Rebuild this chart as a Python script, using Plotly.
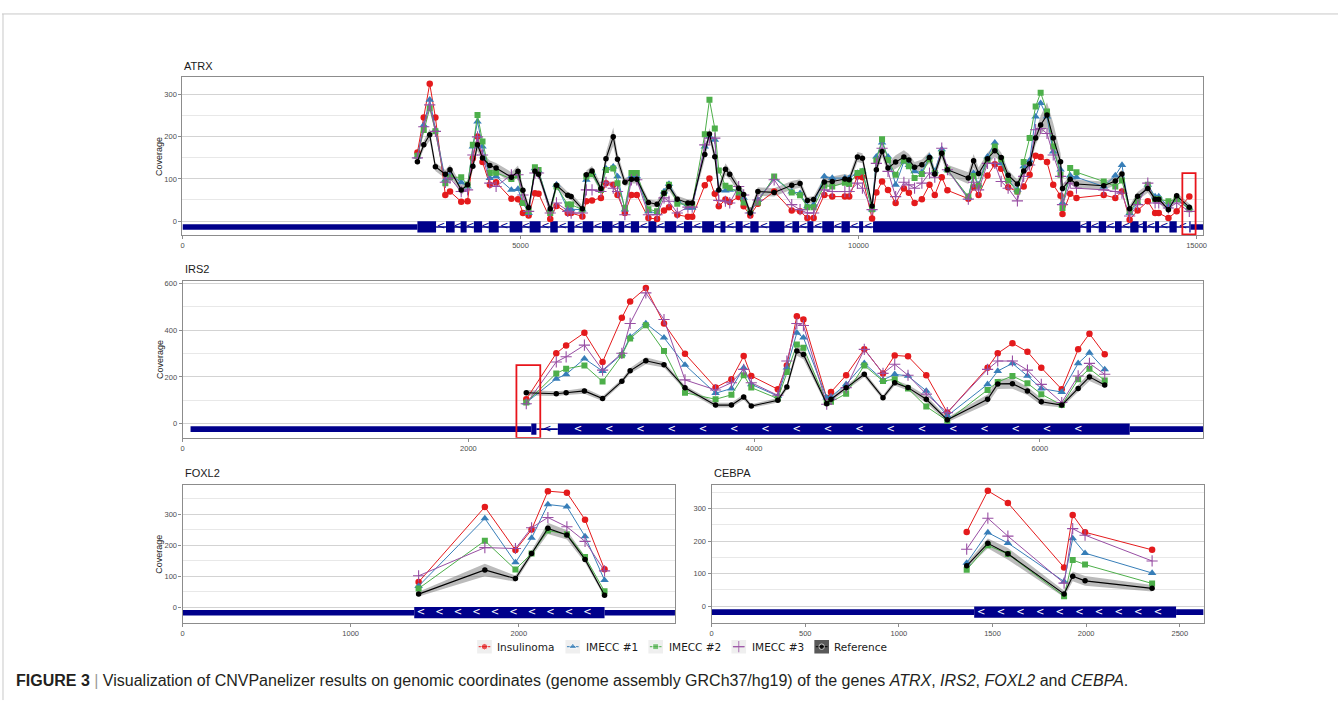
import numpy as np
import plotly.graph_objects as go

FIG_W, FIG_H = 1342, 719
NAVY = "#00008B"
C_INS, C_IM1, C_IM2, C_IM3, C_REF = "#E41A1C", "#377EB8", "#4DAF4A", "#984EA3", "#000000"

# ---------------------------------------------------------------- ATRX
atrx_pos = [3475, 3569, 3657, 3741, 3888, 3957, 4123, 4217, 4295, 4364, 4438, 4546, 4639,
            4865, 4963, 5036, 5120, 5213, 5267, 5440, 5532, 5699, 5749, 5915, 5974, 6058,
            6190, 6264, 6372, 6435, 6544, 6641, 6720, 6892, 7020, 7123, 7196, 7319, 7476,
            7540, 7726, 7795, 7874, 7933, 8031, 8095, 8227, 8301, 8399, 8511, 8752, 9012,
            9135, 9243, 9336, 9494, 9611, 9798, 9862, 9984, 10058, 10200, 10264, 10348,
            10436, 10549, 10671, 10745, 10829, 10937, 11050, 11128, 11231, 11315, 11624,
            11702, 11776, 11908, 12016, 12110, 12213, 12350, 12443, 12531, 12620, 12694,
            12788, 12880, 12988, 13017, 13131, 13224, 13627, 13798, 13897, 14010, 14128,
            14279, 14387, 14441, 14584, 14706, 14893]
atrx_ref = [141, 181, 205, 129, 111, 122, 74, 86, 130, 181, 150, 132, 126, 104, 118, 73, 32,
            118, 111, 29, 85, 61, 58, 29, 110, 119, 77, 148, 200, 147, 92, 99, 99, 44, 40, 66,
            82, 52, 43, 43, 158, 207, 153, 74, 123, 111, 78, 63, 19, 70, 68, 85, 89, 49, 51,
            93, 94, 100, 98, 152, 149, 36, 122, 165, 126, 140, 152, 145, 128, 134, 151, 112,
            161, 122, 102, 143, 113, 148, 167, 151, 109, 88, 119, 136, 197, 228, 252, 197,
            141, 77, 99, 88, 84, 95, 112, 29, 59, 77, 52, 52, 27, 60, 33]
atrx_ins = [163, 246, 326, 246, 62, 70, 46, 47, 149, 201, 140, 86, 92, 53, 52, 19, 13, 66, 65,
            5, 36, 19, 19, 11, 47, 49, 55, 90, 86, 62, 19, 62, 62, 7, 5, 25, 33, 15, 10, 10,
            85, 101, 65, 35, 51, 45, 57, 35, 13, 41, 70, 25, 23, 7, 7, 62, 58, 58, 58, 106,
            104, 6, 68, 94, 74, 43, 77, 67, 43, 52, 86, 62, 104, 73, 53, 80, 62, 108, 135, 124,
            80, 70, 82, 110, 155, 152, 140, 86, 60, 17, 65, 55, 62, 55, 70, 3, 25, 47, 19, 19,
            7, 23, 58]
atrx_im1 = [153, 228, 288, 216, 98, 110, 92, 82, 177, 236, 177, 102, 106, 74, 76, 43, 19, 125,
            119, 27, 86, 28, 28, 27, 98, 114, 74, 125, 129, 106, 27, 106, 106, 23, 19, 70, 88,
            49, 31, 31, 177, 201, 193, 74, 72, 74, 74, 55, 23, 50, 102, 70, 66, 35, 39, 106,
            102, 102, 102, 114, 118, 27, 153, 186, 153, 86, 141, 133, 118, 116, 153, 118, 170,
            122, 55, 114, 86, 153, 186, 137, 97, 74, 130, 144, 248, 280, 248, 165, 122, 43,
            108, 104, 82, 108, 133, 19, 43, 86, 58, 58, 35, 50, 31]
atrx_im2 = [155, 216, 268, 213, 90, 104, 104, 86, 181, 252, 189, 114, 115, 100, 108, 43, 23, 128,
            121, 19, 82, 39, 39, 27, 106, 111, 74, 121, 125, 90, 31, 114, 114, 28, 23, 66, 86,
            41, 39, 39, 206, 288, 220, 120, 84, 79, 68, 44, 25, 44, 106, 68, 61, 33, 33, 84, 82,
            91, 88, 114, 118, 28, 144, 194, 145, 110, 144, 130, 102, 112, 147, 114, 161, 122,
            58, 107, 84, 145, 177, 147, 96, 70, 140, 197, 272, 305, 260, 177, 110, 31, 126,
            116, 94, 82, 96, 23, 47, 86, 52, 52, 47, 52, 28]
atrx_im3 = [150, 224, 276, 213, 92, 102, 70, 74, 157, 200, 157, 90, 82, 110, 110, 62, 23, 114,
            114, 19, 43, 23, 19, 19, 74, 74, 70, 92, 78, 70, 15, 98, 98, 15, 15, 55, 47, 19, 33,
            33, 181, 197, 197, 49, 47, 43, 82, 62, 19, 50, 98, 39, 27, 19, 19, 74, 70, 70, 70,
            90, 78, 27, 137, 173, 118, 58, 92, 86, 78, 90, 114, 104, 173, 122, 52, 92, 74, 137,
            137, 94, 78, 48, 106, 133, 217, 220, 208, 157, 106, 39, 90, 78, 74, 70, 66, 12, 39,
            90, 43, 43, 31, 43, 23]
atrx_band = [8, 10, 14, 10, 10, 12, 12, 10, 10, 14, 12, 12, 12, 12, 14, 10, 8, 10, 10, 8, 10, 8,
             8, 8, 10, 12, 10, 15, 22, 15, 10, 10, 10, 8, 8, 10, 10, 8, 8, 8, 12, 14, 12, 10, 14,
             12, 10, 10, 8, 10, 10, 10, 10, 8, 8, 12, 12, 12, 10, 12, 12, 8, 10, 12, 12, 16, 16,
             14, 12, 12, 14, 12, 12, 12, 14, 16, 14, 14, 14, 12, 12, 10, 10, 12, 16, 22, 30, 35,
             20, 10, 10, 10, 10, 10, 10, 8, 10, 10, 8, 8, 8, 8, 8]
atrx_exon_start = [3475, 3898, 4114, 4310, 4531, 4840, 5135, 5440, 5699, 5920, 6205, 6450, 6632,
                   6892, 7133, 7417, 7687, 7958, 8183, 8399, 8679, 9022, 9243, 9464, 9748,
                   10009, 10215, 13371, 13553, 13794, 14019, 14206, 14387, 14599, 14893]
atrx_exon_end = [3751, 4026, 4203, 4432, 4678, 5027, 5297, 5551, 5797, 6078, 6361, 6534, 6754,
                 7010, 7304, 7539, 7863, 8031, 8286, 8522, 8904, 9121, 9332, 9636, 9872, 10068,
                 13282, 13440, 13662, 13892, 14142, 14265, 14446, 14707, 14912]
atrx_utr = [(0, 3475), (14912, 15100)]

# ---------------------------------------------------------------- IRS2
irs2_pos = [2405, 2615, 2684, 2812, 2939, 3074, 3132, 3242, 3369, 3516, 3730, 3841, 3927, 3980,
            4166, 4229, 4299, 4345, 4508, 4538, 4644, 4771, 4902, 4984, 5077, 5205, 5352, 5634,
            5705, 5808, 5913, 6010, 6153, 6268, 6347, 6454]
irs2_ref = [132, 128, 132, 140, 107, 181, 226, 269, 252, 153, 79, 79, 114, 75, 100, 157, 311,
            296, 85, 104, 153, 211, 111, 175, 154, 104, 16, 104, 170, 171, 140, 93, 79, 150,
            200, 165]
irs2_ins = [104, 301, 335, 389, 264, 453, 523, 581, 429, 299, 154, 190, 289, 204, 147, 249, 460,
            446, 110, 135, 207, 318, 215, 292, 288, 207, 47, 239, 301, 344, 308, 239, 147, 318,
            385, 297]
irs2_im1 = [90, 192, 211, 278, 225, 297, 372, 429, 368, 251, 130, 150, 239, 168, 118, 240, 389,
            368, 111, 115, 168, 258, 187, 211, 204, 140, 33, 168, 225, 258, 204, 150, 135, 258,
            303, 232]
irs2_im2 = [90, 215, 235, 249, 180, 293, 365, 421, 311, 132, 104, 123, 207, 154, 107, 221, 339,
            325, 90, 93, 128, 249, 182, 190, 150, 73, 12, 144, 178, 204, 173, 126, 79, 190, 235,
            185]
irs2_im3 = [85, 264, 286, 336, 229, 301, 429, 560, 446, 187, 144, 175, 232, 175, 121, 268, 429,
            420, 83, 104, 154, 318, 215, 254, 207, 126, 47, 232, 268, 268, 229, 168, 90, 204,
            258, 211]
irs2_band = [12, 10, 10, 12, 10, 10, 12, 15, 12, 10, 10, 10, 12, 8, 10, 12, 20, 20, 10, 10, 10,
             12, 10, 12, 12, 15, 10, 20, 22, 22, 18, 15, 10, 15, 18, 12]
irs2_exon_start = [2440, 2626]
irs2_exon_end = [2476, 6629]
irs2_utr = [(55, 2440), (6629, 7144)]

# ---------------------------------------------------------------- FOXL2
foxl2_pos = [1404, 1798, 1980, 2076, 2173, 2286, 2394, 2510]
foxl2_ref = [42, 120, 92, 173, 254, 233, 154, 38]
foxl2_ins = [81, 323, 184, 250, 374, 369, 282, 122]
foxl2_im1 = [68, 286, 144, 223, 331, 324, 228, 87]
foxl2_im2 = [60, 214, 121, 173, 247, 235, 162, 51]
foxl2_im3 = [101, 192, 189, 256, 289, 259, 212, 117]
foxl2_band = [8, 20, 10, 10, 18, 15, 10, 6]
foxl2_exon_start = [1378]
foxl2_exon_end = [2510]
foxl2_utr = [(0, 1378), (2510, 2929)]

# ---------------------------------------------------------------- CEBPA
cebpa_pos = [1362, 1475, 1582, 1882, 1928, 1994, 2352]
cebpa_ref = [124, 193, 161, 38, 92, 78, 55]
cebpa_ins = [228, 354, 317, 119, 280, 227, 173]
cebpa_im1 = [133, 226, 194, 76, 208, 163, 102]
cebpa_im2 = [112, 187, 160, 31, 142, 128, 70]
cebpa_im3 = [175, 270, 215, 71, 238, 218, 139]
cebpa_band = [8, 15, 18, 10, 15, 15, 10]
cebpa_exon_start = [1402]
cebpa_exon_end = [2480]
cebpa_utr = [(0, 1402), (2480, 2627)]

series_names = ["Insulinoma", "IMECC #1", "IMECC #2", "IMECC #3", "Reference"]

# panel layout in pixels: left, right, top, bottom
panels = [
    dict(title="ATRX", ax="", box=(181.3, 1206.7, 75.7, 234.0), xr=[0, 15100], yr=[-34, 341],
         xt=[0, 5000, 10000, 15000], yt=[0, 100, 200, 300], ym=[50, 150, 250],
         pos=atrx_pos, ref=atrx_ref, band=atrx_band,
         vals=[atrx_ins, atrx_im1, atrx_im2, atrx_im3],
         es=atrx_exon_start, ee=atrx_exon_end, utr=atrx_utr, track=-14,
         chev=0, ylabel=True, hl=(14790, 14986, -32, 114)),
    dict(title="IRS2", ax="2", box=(181.5, 1206.7, 280.0, 437.0), xr=[0, 7144], yr=[-61, 610],
         xt=[0, 2000, 4000, 6000], yt=[0, 200, 400, 600], ym=[100, 300, 500],
         pos=irs2_pos, ref=irs2_ref, band=irs2_band,
         vals=[irs2_ins, irs2_im1, irs2_im2, irs2_im3],
         es=irs2_exon_start, ee=irs2_exon_end, utr=irs2_utr, track=-24,
         chev=17, ylabel=True, hl=(2336, 2503, -61, 250)),
    dict(title="FOXL2", ax="3", box=(181.4, 676.0, 484.3, 623.0), xr=[0, 2929], yr=[-52, 394],
         xt=[0, 1000, 2000], yt=[0, 100, 200, 300], ym=[50, 150, 250, 350],
         pos=foxl2_pos, ref=foxl2_ref, band=foxl2_band,
         vals=[foxl2_ins, foxl2_im1, foxl2_im2, foxl2_im3],
         es=foxl2_exon_start, ee=foxl2_exon_end, utr=foxl2_utr, track=-18,
         chev=10, ylabel=True, hl=None),
    dict(title="CEBPA", ax="4", box=(712.8, 1207.0, 484.3, 623.0), xr=[0, 2627], yr=[-52, 372],
         xt=[0, 500, 1000, 1500, 2000, 2500], yt=[0, 100, 200, 300], ym=[50, 150, 250, 350],
         pos=cebpa_pos, ref=cebpa_ref, band=cebpa_band,
         vals=[cebpa_ins, cebpa_im1, cebpa_im2, cebpa_im3],
         es=cebpa_exon_start, ee=cebpa_exon_end, utr=cebpa_utr, track=-18,
         chev=10, ylabel=False, hl=None),
]

styles = [
    dict(color=C_INS, symbol="circle", size=6.5),
    dict(color=C_IM1, symbol="triangle-up", size=7.5),
    dict(color=C_IM2, symbol="square", size=6),
    dict(color=C_IM3, symbol="cross-thin", size=8),
]

TICK_FONT = dict(family="Liberation Sans, Arial", size=7.5, color="#4D4D4D")
AXIS_LINE = "#8C8C8C"

fig = go.Figure()
shapes, annotations = [], []
layout_axes = {}

for p in panels:
    s = p["ax"]
    xa, ya = "x" + s, "y" + s
    l, r, t, b = p["box"]
    pos = np.array(p["pos"], dtype=float)
    ref = np.array(p["ref"], dtype=float)
    band = np.array(p["band"], dtype=float)

    # reference confidence ribbon
    fig.add_trace(go.Scatter(
        x=np.concatenate([pos, pos[::-1]]),
        y=np.concatenate([ref + band, (ref - band)[::-1]]),
        fill="toself", fillcolor="rgba(105,105,105,0.45)", line=dict(width=0),
        mode="lines", hoverinfo="skip", showlegend=False, xaxis=xa, yaxis=ya))

    # sample series
    for vals, st in zip(p["vals"], styles):
        mk = dict(symbol=st["symbol"], size=st["size"], color=st["color"])
        if st["symbol"] == "cross-thin":
            mk["line"] = dict(color=st["color"], width=1.1)
        else:
            mk["line"] = dict(width=0)
        fig.add_trace(go.Scatter(x=p["pos"], y=vals, mode="lines+markers",
                                 line=dict(color=st["color"], width=1), marker=mk,
                                 showlegend=False, xaxis=xa, yaxis=ya))

    # reference series
    fig.add_trace(go.Scatter(x=p["pos"], y=p["ref"], mode="lines+markers",
                             line=dict(color=C_REF, width=1.1),
                             marker=dict(symbol="circle", size=5.5, color=C_REF),
                             showlegend=False, xaxis=xa, yaxis=ya))

    # gene model: UTR (half height), intron line, coding exons
    tr = p["track"]
    es, ee = p["es"], p["ee"]
    for u0, u1 in p["utr"]:
        shapes.append(dict(type="rect", xref=xa, yref=ya, x0=u0, x1=u1, ysizemode="pixel",
                           yanchor=tr, y0=-2.8, y1=2.8, fillcolor=NAVY, line=dict(width=0),
                           layer="between"))
    if len(es) > 1:
        shapes.append(dict(type="line", xref=xa, yref=ya, x0=ee[0], x1=es[-1],
                           ysizemode="pixel", yanchor=tr, y0=0, y1=0,
                           line=dict(color=NAVY, width=1.6), layer="between"))
    for e0, e1 in zip(es, ee):
        shapes.append(dict(type="rect", xref=xa, yref=ya, x0=e0, x1=e1, ysizemode="pixel",
                           yanchor=tr, y0=-5.6, y1=5.6, fillcolor=NAVY, line=dict(width=0),
                           layer="between"))
    # strand arrows in introns
    ix = [(ee[i] + es[i + 1]) / 2 for i in range(len(es) - 1)]
    if ix:
        fig.add_trace(go.Scatter(x=ix, y=[tr] * len(ix), mode="text", text=["<"] * len(ix),
                                 textfont=dict(color=NAVY, size=10, family="DejaVu Sans"),
                                 textposition="middle center", hoverinfo="skip",
                                 showlegend=False, xaxis=xa, yaxis=ya))
    # strand chevrons inside the long coding exon
    if p["chev"]:
        k = int(np.argmax(np.array(ee) - np.array(es)))
        span = ee[k] - es[k]
        cx = np.linspace(es[k] + span * 0.035, ee[k] - span * 0.09, p["chev"])
        fig.add_trace(go.Scatter(x=cx, y=[tr] * len(cx), mode="text", text=["<"] * len(cx),
                                 textfont=dict(color="white", size=10, family="DejaVu Sans"),
                                 textposition="middle center", hoverinfo="skip",
                                 showlegend=False, xaxis=xa, yaxis=ya))

    # highlighted region
    if p["hl"]:
        h0, h1, v0, v1 = p["hl"]
        shapes.append(dict(type="rect", xref=xa, yref=ya, x0=h0, x1=h1, y0=v0, y1=v1,
                           line=dict(color="#E8141B", width=1.8), fillcolor="rgba(0,0,0,0)",
                           layer="above"))

    layout_axes["xaxis" + s] = dict(
        domain=[l / FIG_W, r / FIG_W], range=p["xr"], anchor=ya,
        tickmode="array", tickvals=p["xt"], ticktext=[str(v) for v in p["xt"]],
        ticks="outside", ticklen=3, tickwidth=1,
        tickcolor=AXIS_LINE, tickfont=TICK_FONT, showgrid=False, zeroline=False,
        showline=True, mirror=True, linecolor=AXIS_LINE, linewidth=1.2)
    layout_axes["yaxis" + s] = dict(
        domain=[1 - b / FIG_H, 1 - t / FIG_H], range=p["yr"], anchor=xa,
        tickmode="array", tickvals=p["yt"], ticktext=[str(v) for v in p["yt"]],
        ticks="outside", ticklen=3, tickwidth=1,
        tickcolor=AXIS_LINE, tickfont=TICK_FONT, showgrid=True, gridcolor="#D3D3D3",
        gridwidth=1, zeroline=False, showline=True, mirror=True, linecolor=AXIS_LINE,
        linewidth=1.2,
        minor=dict(tickmode="array", tickvals=p["ym"], showgrid=True, gridcolor="#E8E8E8",
                   gridwidth=0.8, ticks=""))

    annotations.append(dict(text=p["title"], x=l / FIG_W, y=1 - (t - 4) / FIG_H,
                            xref="paper", yref="paper", xanchor="left", yanchor="bottom",
                            showarrow=False,
                            font=dict(family="Liberation Sans, Arial", size=11,
                                      color="#1A1A1A")))
    if p["ylabel"]:
        annotations.append(dict(text="Coverage", x=158.3 / FIG_W, y=1 - (t + b) / 2 / FIG_H,
                                xref="paper", yref="paper", xanchor="center",
                                yanchor="middle", textangle=-90, showarrow=False,
                                font=dict(family="Liberation Sans, Arial", size=9,
                                          color="#1A1A1A")))

# ---------------------------------------------------------------- legend (pixel axis)
LEG_TOP, LEG_BOT = 632, 660
layout_axes["xaxis5"] = dict(domain=[0, 1], range=[0, FIG_W], visible=False,
                             anchor="y5", fixedrange=True)
layout_axes["yaxis5"] = dict(domain=[1 - LEG_BOT / FIG_H, 1 - LEG_TOP / FIG_H],
                             range=[LEG_BOT, LEG_TOP], visible=False, anchor="x5",
                             fixedrange=True)
key_left = [477.3, 566.0, 649.3, 732.7, 816.0]
key_w, key_y0, key_y1 = 14.7, 639.8, 653.2
key_cy = (key_y0 + key_y1) / 2
leg_styles = styles + [dict(color=C_REF, symbol="circle", size=5.5)]
for i, (name, kl, st) in enumerate(zip(series_names, key_left, leg_styles)):
    is_ref = name == "Reference"
    shapes.append(dict(type="rect", xref="x5", yref="y5", x0=kl, x1=kl + key_w,
                       y0=key_y0, y1=key_y1, line=dict(width=0),
                       fillcolor="#595959" if is_ref else "#EFEFEF", layer="below"))
    mk = dict(symbol=st["symbol"], size=st["size"], color=st["color"])
    if st["symbol"] == "cross-thin":
        mk["line"] = dict(color=st["color"], width=1.1)
    fig.add_trace(go.Scatter(x=[kl + 1.5, kl + key_w / 2, kl + key_w - 1.5],
                             y=[key_cy] * 3, mode="lines+markers",
                             line=dict(color=st["color"], width=1),
                             marker=dict(mk, size=[0, st["size"], 0]),
                             hoverinfo="skip", showlegend=False, xaxis="x5", yaxis="y5"))
    annotations.append(dict(text=name, x=kl + key_w + 3.5, y=key_cy, xref="x5", yref="y5",
                            xanchor="left", yanchor="middle", showarrow=False,
                            font=dict(family="DejaVu Sans", size=10.5, color="#1A1A1A")))

# ---------------------------------------------------------------- caption and frame
annotations.append(dict(
    text=("<b>FIGURE 3</b> <span style='color:#9A9A9A'>|</span> Visualization of CNVPanelizer "
          "results on genomic coordinates (genome assembly GRCh37/hg19) of the genes "
          "<i>ATRX</i>, <i>IRS2</i>, <i>FOXL2</i> and <i>CEBPA</i>."),
    x=12 / FIG_W, y=1 - 680 / FIG_H, xref="paper", yref="paper", xanchor="left",
    yanchor="middle", showarrow=False,
    font=dict(family="Liberation Sans, Arial", size=16, color="#231F20")))
shapes.append(dict(type="line", xref="paper", yref="paper", x0=0, x1=1,
                   y0=1 - 12 / FIG_H, y1=1 - 12 / FIG_H,
                   line=dict(color="#C8C8C8", width=1)))
shapes.append(dict(type="line", xref="paper", yref="paper", x0=1 / FIG_W, x1=1 / FIG_W,
                   y0=1 - 12 / FIG_H, y1=1 - 700 / FIG_H,
                   line=dict(color="#C8C8C8", width=1)))

fig.update_layout(width=FIG_W, height=FIG_H, margin=dict(l=0, r=0, t=0, b=0),
                  paper_bgcolor="white", plot_bgcolor="white", showlegend=False,
                  shapes=shapes, annotations=annotations, **layout_axes)

fig.write_html("out.html")
